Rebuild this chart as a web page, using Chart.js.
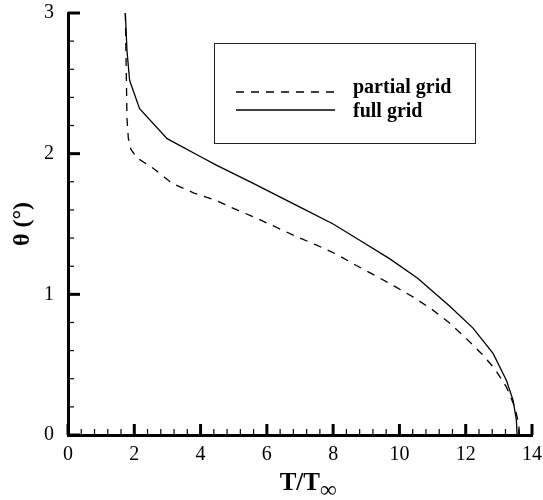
<!DOCTYPE html>
<html>
<head>
<meta charset="utf-8">
<title>T/T_inf vs theta</title>
<script src="https://cdn.jsdelivr.net/npm/chart.js@4.4.0/dist/chart.umd.min.js"></script>
<style>
    html, body { margin: 0; padding: 0; background: #fff; }
    #chart { display: block; }
</style>
</head>
<body>
<canvas id="chart" width="543" height="500"></canvas>
<script>
/* ==========================================
   TEMPERATURE PROFILE - partial vs full grid
   ========================================== */

// full grid (solid)
const fullX = [1.73, 1.78, 1.86, 2.16, 2.99, 3.99, 4.49, 5.5, 7.0, 8.0, 8.8, 9.7, 10.55, 11.52, 12.22, 12.83, 13.23, 13.43, 13.53, 13.55];
const fullY = [3.0, 2.73, 2.52, 2.32, 2.107, 1.98, 1.917, 1.80, 1.62, 1.50, 1.384, 1.254, 1.115, 0.915, 0.76, 0.578, 0.388, 0.246, 0.104, 0];

// partial grid (dashed)
const partialX = [1.73, 1.75, 1.77, 1.78, 1.82, 1.9, 2.08, 2.58, 3.14, 3.8, 4.44, 5.1, 5.7, 6.3, 6.9, 7.5, 8.1, 8.7, 9.26, 9.86, 10.42, 10.97, 11.52, 12.02, 12.48, 12.88, 13.23, 13.48, 13.6, 13.62];
const partialY = [3.0, 2.7, 2.4, 2.25, 2.11, 2.03, 1.97, 1.895, 1.79, 1.72, 1.67, 1.6, 1.54, 1.475, 1.41, 1.35, 1.285, 1.205, 1.135, 1.057, 0.98, 0.895, 0.795, 0.685, 0.578, 0.47, 0.34, 0.2, 0.08, 0];

const xTickLabels = ['0', '2', '4', '6', '8', '10', '12', '14'];
const yTickLabels = ['0', '1', '2', '3'];
const seriesLabels = ['partial grid', 'full grid'];

const SERIF = '"Liberation Serif", "Times New Roman", serif';

function toPoints(xs, ys) {
    return xs.map((x, i) => ({ x: x, y: ys[i] }));
}

// Tick marks point inward, majors thick, minors thin
const innerTicks = {
    id: 'innerTicks',
    afterDraw(chart) {
        const ctx = chart.ctx;
        const xs = chart.scales.x;
        const ys = chart.scales.y;
        const left = chart.chartArea.left;
        const bottom = chart.chartArea.bottom;
        ctx.save();
        ctx.strokeStyle = '#000';
        for (let i = 0; i <= 35; i++) {
            const major = i % 5 === 0;
            const px = xs.getPixelForValue(i * 0.4);
            ctx.lineWidth = major ? 3 : 1.2;
            ctx.beginPath();
            ctx.moveTo(px, bottom);
            ctx.lineTo(px, bottom - (major ? 11 : 6));
            ctx.stroke();
        }
        for (let i = 0; i <= 15; i++) {
            const major = i % 5 === 0;
            const py = ys.getPixelForValue(i * 0.2);
            ctx.lineWidth = major ? 3 : 1.2;
            ctx.beginPath();
            ctx.moveTo(left, py);
            ctx.lineTo(left + (major ? 12 : 6), py);
            ctx.stroke();
        }
        ctx.restore();
    }
};

// Boxed legend inside the plot, as in the original figure
const boxLegend = {
    id: 'boxLegend',
    afterDraw(chart) {
        const ctx = chart.ctx;
        const bx = 214, by = 43, bw = 261, bh = 100;
        ctx.save();
        ctx.strokeStyle = '#222';
        ctx.lineWidth = 1;
        ctx.strokeRect(bx + 0.5, by + 0.5, bw, bh);

        const lineRows = [92, 110];
        const textRows = [93, 117];
        chart.data.datasets.forEach((ds, i) => {
            ctx.strokeStyle = '#000';
            ctx.lineWidth = 1.3;
            ctx.setLineDash(ds.borderDash || []);
            ctx.beginPath();
            ctx.moveTo(236, lineRows[i]);
            ctx.lineTo(335, lineRows[i]);
            ctx.stroke();
            ctx.setLineDash([]);
            ctx.fillStyle = '#000';
            ctx.font = 'bold 20px ' + SERIF;
            ctx.textBaseline = 'alphabetic';
            ctx.textAlign = 'left';
            ctx.fillText(ds.label, 353, textRows[i]);
        });
        ctx.restore();
    }
};

// x title with the infinity subscript
const xTitle = {
    id: 'xTitle',
    afterDraw(chart) {
        const ctx = chart.ctx;
        const ca = chart.chartArea;
        const main = 'T/T';
        const sub = '\u221E';
        ctx.save();
        ctx.fillStyle = '#000';
        ctx.textBaseline = 'alphabetic';
        ctx.textAlign = 'left';
        ctx.font = 'bold 25px ' + SERIF;
        const w1 = ctx.measureText(main).width;
        ctx.font = 'bold 23px ' + SERIF;
        const w2 = ctx.measureText(sub).width;
        const x0 = (ca.left + ca.right) / 2 + 8 - (w1 + w2) / 2;
        ctx.font = 'bold 25px ' + SERIF;
        ctx.fillText(main, x0, 490);
        ctx.font = 'bold 23px ' + SERIF;
        ctx.fillText(sub, x0 + w1, 497);
        ctx.restore();
    }
};

function initChart() {
    const ctx = document.getElementById('chart');

    new Chart(ctx, {
        type: 'line',
        data: {
            datasets: [
                {
                    label: seriesLabels[0],
                    data: toPoints(partialX, partialY),
                    borderColor: '#000',
                    borderWidth: 1.3,
                    borderDash: [8, 7],
                    pointRadius: 0,
                    tension: 0,
                    fill: false
                },
                {
                    label: seriesLabels[1],
                    data: toPoints(fullX, fullY),
                    borderColor: '#000',
                    borderWidth: 1.3,
                    pointRadius: 0,
                    tension: 0,
                    fill: false
                }
            ]
        },
        options: {
            responsive: false,
            animation: false,
            devicePixelRatio: 1,
            layout: {
                padding: { top: 13, right: 11, left: 0, bottom: 0 }
            },
            plugins: {
                legend: { display: false },
                tooltip: { enabled: false }
            },
            scales: {
                x: {
                    type: 'linear',
                    min: 0,
                    max: 14,
                    // fixed band; label overflow handled by layout padding instead
                    afterFit: function (scale) {
                        scale.height = 65;
                        scale.paddingLeft = 0;
                        scale.paddingRight = 0;
                    },
                    grid: { display: false, drawTicks: false },
                    border: { display: true, color: '#000', width: 3 },
                    ticks: {
                        stepSize: 2,
                        padding: 8,
                        color: '#000',
                        font: { size: 20, family: SERIF },
                        maxRotation: 0,
                        callback: function (value) {
                            return xTickLabels[Math.round(value / 2)];
                        }
                    }
                },
                y: {
                    type: 'linear',
                    min: 0,
                    max: 3,
                    afterFit: function (scale) {
                        scale.width = 68;
                        scale.paddingTop = 0;
                        scale.paddingBottom = 0;
                    },
                    grid: { display: false, drawTicks: false },
                    border: { display: true, color: '#000', width: 3 },
                    title: {
                        display: true,
                        text: '\u03B8 (\u00B0)',
                        color: '#000',
                        padding: { top: 8, bottom: 0 },
                        font: { size: 24, weight: 'bold', family: SERIF }
                    },
                    ticks: {
                        stepSize: 1,
                        padding: 14,
                        color: '#000',
                        font: { size: 20, family: SERIF },
                        callback: function (value) {
                            return yTickLabels[Math.round(value)];
                        }
                    }
                }
            }
        },
        plugins: [innerTicks, boxLegend, xTitle]
    });
}

document.addEventListener('DOMContentLoaded', initChart);
</script>
</body>
</html>
